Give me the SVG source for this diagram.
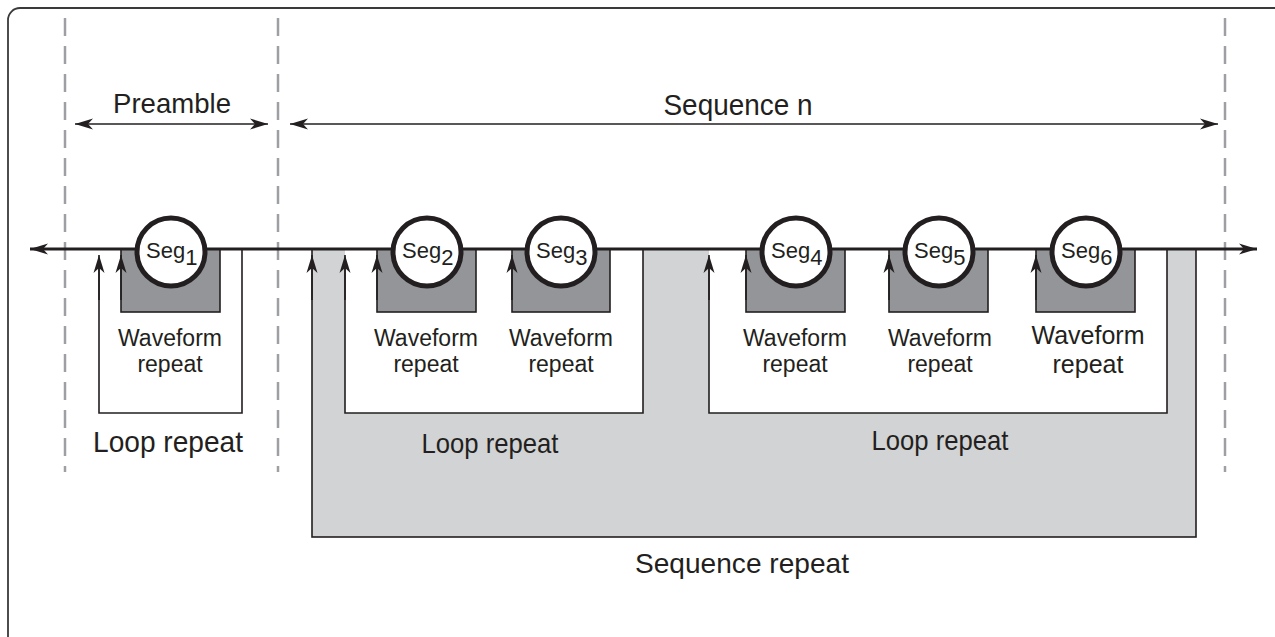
<svg xmlns="http://www.w3.org/2000/svg" width="1275" height="637" viewBox="0 0 1275 637">
  <style>
    .txt { font-family: "Liberation Sans", Arial, sans-serif; fill: #231f20; }
    .mid { text-anchor: middle; }
    .wf { font-size: 23px; text-anchor: middle; }
    .wf6 { font-size: 25px; text-anchor: middle; }
    .seg { font-size: 22px; }
    .dash { stroke: #9d9fa2; stroke-width: 2.5; stroke-dasharray: 18 10; fill: none; }
    .thin { stroke: #231f20; stroke-width: 1.6; fill: none; }
    .wave { fill: #939598; stroke: #231f20; stroke-width: 1.6; }
    .circ { fill: #ffffff; stroke: #231f20; stroke-width: 5; }
    .up { stroke: #231f20; stroke-width: 1.6; fill: none; marker-end: url(#ah); }
  </style>
  <defs>
    <marker id="ah" viewBox="-20 -7 22 14" refX="0" refY="0" markerWidth="22" markerHeight="14" markerUnits="userSpaceOnUse" orient="auto">
      <path d="M0,0 L-18,-5.5 L-13,0 L-18,5.5 Z" fill="#231f20"/>
    </marker>
    <marker id="ahs" viewBox="-20 -7 22 14" refX="0" refY="0" markerWidth="22" markerHeight="14" markerUnits="userSpaceOnUse" orient="auto-start-reverse">
      <path d="M0,0 L-18,-5.5 L-13,0 L-18,5.5 Z" fill="#231f20"/>
    </marker>
  </defs>

  <!-- frame -->
  <path d="M1275,8 H20 A12,12 0 0 0 8,20 V637" fill="none" stroke="#3a3a3a" stroke-width="1.8"/>

  <!-- dashed boundaries -->
  <g id="boundaries">
    <line class="dash" x1="65" y1="18" x2="65" y2="472"/>
    <line class="dash" x1="278" y1="18" x2="278" y2="472"/>
    <line class="dash" x1="1225" y1="18" x2="1225" y2="472"/>
  </g>

  <!-- sequence repeat background -->
  <g id="sequence-repeat">
    <rect x="312" y="249" width="884" height="288" fill="#d1d3d4" stroke="#231f20" stroke-width="1.6"/>
    <text class="txt mid" font-size="28" x="742" y="573" textLength="214" lengthAdjust="spacingAndGlyphs">Sequence repeat</text>
  </g>

  <!-- loop repeats -->
  <g id="loop1">
    <rect x="99" y="249" width="143" height="164" fill="#ffffff"/>
    <path class="thin" d="M99,258 V413 H242 V249"/>
    <text class="txt mid" font-size="30" x="168" y="452" textLength="150" lengthAdjust="spacingAndGlyphs">Loop repeat</text>
  </g>
  <g id="loop2">
    <rect x="345" y="249" width="298" height="164" fill="#ffffff"/>
    <path class="thin" d="M345,258 V413 H643 V249"/>
    <text class="txt mid" font-size="28" x="490" y="453" textLength="137" lengthAdjust="spacingAndGlyphs">Loop repeat</text>
  </g>
  <g id="loop3">
    <rect x="709" y="249" width="458" height="164" fill="#ffffff"/>
    <path class="thin" d="M709,258 V413 H1167 V249"/>
    <text class="txt mid" font-size="28" x="940" y="450" textLength="137" lengthAdjust="spacingAndGlyphs">Loop repeat</text>
  </g>

  <!-- waveform boxes -->
  <g id="waveform-boxes">
    <rect class="wave" x="121" y="249" width="99" height="63"/>
    <rect class="wave" x="377" y="249" width="99" height="63"/>
    <rect class="wave" x="512" y="249" width="98" height="63"/>
    <rect class="wave" x="746" y="249" width="99" height="63"/>
    <rect class="wave" x="889" y="249" width="99" height="63"/>
    <rect class="wave" x="1036" y="249" width="99" height="63"/>
  </g>

  <!-- connectors -->
  <g id="connectors">
    <line x1="1257" y1="249" x2="30" y2="249" stroke="#231f20" stroke-width="3" marker-start="url(#ahs)" marker-end="url(#ah)"/>
    <line x1="75" y1="124" x2="268" y2="124" stroke="#231f20" stroke-width="1.6" marker-start="url(#ahs)" marker-end="url(#ah)"/>
    <line x1="290" y1="124" x2="1218" y2="124" stroke="#231f20" stroke-width="1.6" marker-start="url(#ahs)" marker-end="url(#ah)"/>
    <line class="up" x1="99" y1="300" x2="99" y2="255"/>
    <line class="up" x1="121" y1="300" x2="121" y2="255"/>
    <line class="up" x1="312" y1="300" x2="312" y2="255"/>
    <line class="up" x1="345" y1="300" x2="345" y2="255"/>
    <line class="up" x1="377" y1="300" x2="377" y2="255"/>
    <line class="up" x1="512" y1="300" x2="512" y2="255"/>
    <line class="up" x1="709" y1="300" x2="709" y2="255"/>
    <line class="up" x1="746" y1="300" x2="746" y2="255"/>
    <line class="up" x1="889" y1="300" x2="889" y2="255"/>
    <line class="up" x1="1036" y1="300" x2="1036" y2="255"/>
  </g>

  <!-- segments -->
  <g id="seg1">
    <circle class="circ" cx="171" cy="252" r="34"/>
    <text class="txt seg" x="146" y="258">Seg<tspan dy="7">1</tspan></text>
    <text class="txt wf" x="170" y="346"><tspan x="170">Waveform</tspan><tspan x="170" dy="26">repeat</tspan></text>
  </g>
  <g id="seg2">
    <circle class="circ" cx="427" cy="252" r="34"/>
    <text class="txt seg" x="402" y="258">Seg<tspan dy="7">2</tspan></text>
    <text class="txt wf" x="426" y="346"><tspan x="426">Waveform</tspan><tspan x="426" dy="26">repeat</tspan></text>
  </g>
  <g id="seg3">
    <circle class="circ" cx="561" cy="252" r="34"/>
    <text class="txt seg" x="536" y="258">Seg<tspan dy="7">3</tspan></text>
    <text class="txt wf" x="561" y="346"><tspan x="561">Waveform</tspan><tspan x="561" dy="26">repeat</tspan></text>
  </g>
  <g id="seg4">
    <circle class="circ" cx="796" cy="252" r="34"/>
    <text class="txt seg" x="771" y="258">Seg<tspan dy="7">4</tspan></text>
    <text class="txt wf" x="795" y="346"><tspan x="795">Waveform</tspan><tspan x="795" dy="26">repeat</tspan></text>
  </g>
  <g id="seg5">
    <circle class="circ" cx="939" cy="252" r="34"/>
    <text class="txt seg" x="914" y="258">Seg<tspan dy="7">5</tspan></text>
    <text class="txt wf" x="940" y="346"><tspan x="940">Waveform</tspan><tspan x="940" dy="26">repeat</tspan></text>
  </g>
  <g id="seg6">
    <circle class="circ" cx="1086" cy="252" r="34"/>
    <text class="txt seg" x="1061" y="258">Seg<tspan dy="7">6</tspan></text>
    <text class="txt wf6" x="1088" y="344"><tspan x="1088">Waveform</tspan><tspan x="1088" dy="29">repeat</tspan></text>
  </g>

  <!-- header labels -->
  <text class="txt mid" font-size="28" x="172" y="113" textLength="118" lengthAdjust="spacingAndGlyphs">Preamble</text>
  <text class="txt mid" font-size="30" x="738" y="115" textLength="149" lengthAdjust="spacingAndGlyphs">Sequence n</text>
</svg>
